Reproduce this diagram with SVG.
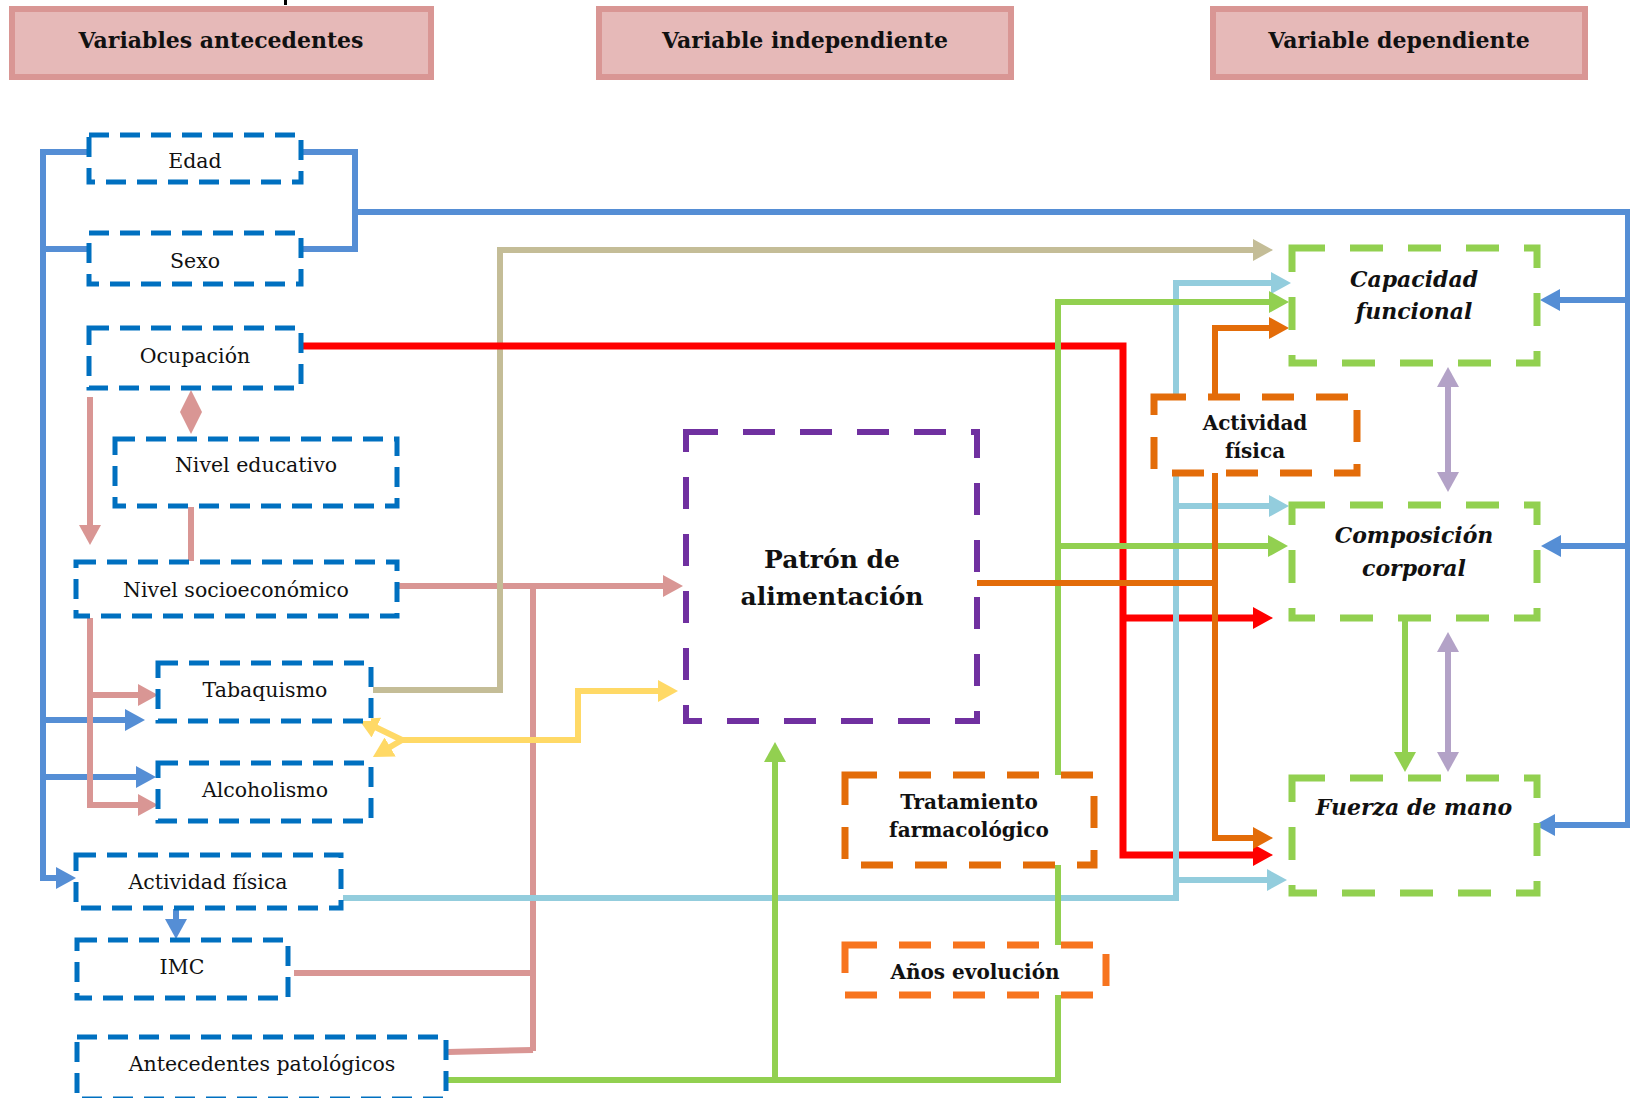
<svg xmlns="http://www.w3.org/2000/svg" width="1630" height="1098" viewBox="0 0 1630 1098">
<style>
  .hdr rect { fill:#e6b9b8; stroke:#d99694; stroke-width:6; }
  .hdr text { font-family:"DejaVu Serif","Liberation Serif",serif; font-weight:bold; font-size:22px; fill:#111; text-anchor:middle; dominant-baseline:central; }
  .bn rect { fill:#fff; stroke:#0070c0; stroke-width:5; stroke-dasharray:20 11; }
  .bn text { font-family:"DejaVu Serif","Liberation Serif",serif; font-size:20.5px; fill:#111; text-anchor:middle; dominant-baseline:central; }
  .pn rect { fill:#fff; stroke:#7030a0; stroke-width:6; stroke-dasharray:32 25; }
  .pn text { font-family:"DejaVu Serif","Liberation Serif",serif; font-weight:bold; font-size:25px; fill:#111; text-anchor:middle; dominant-baseline:central; }
  .gn rect { fill:#fff; stroke:#92d050; stroke-width:7; stroke-dasharray:33 25; }
  .gn text { font-family:"DejaVu Serif","Liberation Serif",serif; font-weight:bold; font-style:italic; font-size:22px; fill:#111; text-anchor:middle; dominant-baseline:central; }
  .on rect { fill:#fff; stroke:#e36c09; stroke-width:7; stroke-dasharray:32 22; }
  .on.bright rect { stroke:#f7741f; }
  .on text { font-family:"DejaVu Serif","Liberation Serif",serif; font-weight:bold; font-size:20px; fill:#111; text-anchor:middle; dominant-baseline:central; }
  #connectors path { fill:none; stroke-width:6; stroke-linejoin:miter; }
  .blue { stroke:#558ed5; }
  .pink { stroke:#d99694; }
  .red { stroke:#ff0000; stroke-width:7 !important; }
  .tan { stroke:#c4bd97; }
  .yel { stroke:#ffd966; }
  .lbl { stroke:#93cddd; }
  .grn { stroke:#92d050; }
  .org { stroke:#e36c09; }
  .lav { stroke:#b3a2c7; }
</style>
<defs>
  <marker id="aBlue" markerUnits="userSpaceOnUse" viewBox="0 0 20 22" markerWidth="20" markerHeight="22" refX="6" refY="11" orient="auto-start-reverse"><path d="M0,0 L20,11 L0,22 z" fill="#558ed5"/></marker>
  <marker id="aPink" markerUnits="userSpaceOnUse" viewBox="0 0 20 22" markerWidth="20" markerHeight="22" refX="6" refY="11" orient="auto-start-reverse"><path d="M0,0 L20,11 L0,22 z" fill="#d99694"/></marker>
  <marker id="aRed" markerUnits="userSpaceOnUse" viewBox="0 0 20 22" markerWidth="20" markerHeight="22" refX="6" refY="11" orient="auto-start-reverse"><path d="M0,0 L20,11 L0,22 z" fill="#ff0000"/></marker>
  <marker id="aTan" markerUnits="userSpaceOnUse" viewBox="0 0 20 22" markerWidth="20" markerHeight="22" refX="6" refY="11" orient="auto-start-reverse"><path d="M0,0 L20,11 L0,22 z" fill="#c4bd97"/></marker>
  <marker id="aYel" markerUnits="userSpaceOnUse" viewBox="0 0 20 22" markerWidth="20" markerHeight="22" refX="6" refY="11" orient="auto-start-reverse"><path d="M0,0 L20,11 L0,22 z" fill="#ffd966"/></marker>
  <marker id="aLbl" markerUnits="userSpaceOnUse" viewBox="0 0 20 22" markerWidth="20" markerHeight="22" refX="6" refY="11" orient="auto-start-reverse"><path d="M0,0 L20,11 L0,22 z" fill="#93cddd"/></marker>
  <marker id="aGrn" markerUnits="userSpaceOnUse" viewBox="0 0 20 22" markerWidth="20" markerHeight="22" refX="6" refY="11" orient="auto-start-reverse"><path d="M0,0 L20,11 L0,22 z" fill="#92d050"/></marker>
  <marker id="aOrg" markerUnits="userSpaceOnUse" viewBox="0 0 20 22" markerWidth="20" markerHeight="22" refX="6" refY="11" orient="auto-start-reverse"><path d="M0,0 L20,11 L0,22 z" fill="#e36c09"/></marker>
  <marker id="aLav" markerUnits="userSpaceOnUse" viewBox="0 0 20 22" markerWidth="20" markerHeight="22" refX="6" refY="11" orient="auto-start-reverse"><path d="M0,0 L20,11 L0,22 z" fill="#b3a2c7"/></marker>
</defs>
<rect x="0" y="0" width="1630" height="1098" fill="#ffffff"/>
<rect x="284" y="0" width="3" height="5" fill="#000"/>

<g id="headers">
  <g id="hdr-antecedentes" class="hdr"><rect x="12" y="9" width="419" height="68"/><text x="221" y="40">Variables antecedentes</text></g>
  <g id="hdr-independiente" class="hdr"><rect x="599" y="9" width="412" height="68"/><text x="805" y="40">Variable independiente</text></g>
  <g id="hdr-dependiente" class="hdr"><rect x="1213" y="9" width="372" height="68"/><text x="1399" y="40">Variable dependiente</text></g>
</g>

<g id="connectors">
  <!-- blue -->
  <path class="blue" d="M89,152 H43 V878 H62" marker-end="url(#aBlue)"/>
  <path class="blue" d="M89,249 H43"/>
  <path class="blue" d="M43,720 H131" marker-end="url(#aBlue)"/>
  <path class="blue" d="M43,777 H142" marker-end="url(#aBlue)"/>
  <path class="blue" d="M301,152 H355 V249 H301"/>
  <path class="blue" d="M355,212 H1628 V825 H1549" marker-end="url(#aBlue)"/>
  <path class="blue" d="M1628,300 H1554" marker-end="url(#aBlue)"/>
  <path class="blue" d="M1628,546 H1555" marker-end="url(#aBlue)"/>
  <path class="blue" d="M176,909 V925" marker-end="url(#aBlue)"/>
  <!-- pink -->
  <path class="pink" d="M90,397 V531" marker-end="url(#aPink)"/>
  <polygon points="191,390 202,412 191,434 180,412" fill="#d99694"/>
  <path class="pink" d="M191,507 V561"/>
  <path class="pink" d="M397,586 H669" marker-end="url(#aPink)"/>
  <path class="pink" d="M533,586 V1051"/>
  <path class="pink" d="M294,973 H533"/>
  <path class="pink" d="M448,1052 L533,1050"/>
  <path class="pink" d="M90,618 V805 H144" marker-end="url(#aPink)"/>
  <path class="pink" d="M90,695 H144" marker-end="url(#aPink)"/>
  <!-- tan -->
  <path class="tan" d="M373,690 H500 V250 H1259" marker-end="url(#aTan)"/>
  <!-- red -->
  <path class="red" d="M301,346 H1123 V855 H1259" marker-end="url(#aRed)"/>
  <path class="red" d="M1123,618 H1259" marker-end="url(#aRed)"/>
  <!-- yellow -->
  <path class="yel" d="M400,740 H578 V691 H664" marker-end="url(#aYel)"/>
  <path class="yel" d="M402,740 L371,725" marker-end="url(#aYel)"/>
  <path class="yel" d="M402,740 L385,750" marker-end="url(#aYel)"/>
  <!-- light blue -->
  <path class="lbl" d="M343,898 H1176 V283 H1277" marker-end="url(#aLbl)"/>
  <path class="lbl" d="M1176,506 H1275" marker-end="url(#aLbl)"/>
  <path class="lbl" d="M1176,880 H1273" marker-end="url(#aLbl)"/>
  <!-- green -->
  <path class="grn" d="M448,1080 H1058 V302 H1275" marker-end="url(#aGrn)"/>
  <path class="grn" d="M1058,546 H1274" marker-end="url(#aGrn)"/>
  <path class="grn" d="M775,1080 V756" marker-end="url(#aGrn)"/>
  <path class="grn" d="M1405,618 V758" marker-end="url(#aGrn)"/>
  <!-- orange -->
  <path class="org" d="M977,583 H1215"/>
  <path class="org" d="M1215,473 V838 H1259" marker-end="url(#aOrg)"/>
  <path class="org" d="M1215,397 V328 H1275" marker-end="url(#aOrg)"/>
  <!-- lavender -->
  <path class="lav" d="M1448,381 V478" marker-start="url(#aLav)" marker-end="url(#aLav)"/>
  <path class="lav" d="M1448,646 V758" marker-start="url(#aLav)" marker-end="url(#aLav)"/>
</g>

<g id="nodes">
  <g id="n-edad" class="bn"><rect x="89" y="135" width="212" height="47"/><text x="195" y="161">Edad</text></g>
  <g id="n-sexo" class="bn"><rect x="89" y="233" width="212" height="51"/><text x="195" y="261">Sexo</text></g>
  <g id="n-ocupacion" class="bn"><rect x="89" y="328" width="212" height="60"/><text x="195" y="356">Ocupación</text></g>
  <g id="n-niveleducativo" class="bn"><rect x="115" y="439" width="282" height="67"/><text x="256" y="465">Nivel educativo</text></g>
  <g id="n-nivelsocio" class="bn"><rect x="76" y="562" width="321" height="54"/><text x="236" y="590">Nivel socioeconómico</text></g>
  <g id="n-tabaquismo" class="bn"><rect x="158" y="663" width="213" height="58"/><text x="265" y="690">Tabaquismo</text></g>
  <g id="n-alcoholismo" class="bn"><rect x="158" y="763" width="213" height="58"/><text x="265" y="790">Alcoholismo</text></g>
  <g id="n-actividad-ant" class="bn"><rect x="76" y="855" width="265" height="53"/><text x="208" y="882">Actividad física</text></g>
  <g id="n-imc" class="bn"><rect x="77" y="940" width="211" height="58"/><text x="182" y="967">IMC</text></g>
  <g id="n-antecedentes" class="bn"><rect x="77" y="1037" width="369" height="62"/><text x="262" y="1064">Antecedentes patológicos</text></g>

  <g id="n-patron" class="pn"><rect x="686" y="432" width="291" height="289"/><text x="832" y="559">Patrón de</text><text x="832" y="596">alimentación</text></g>

  <g id="n-actividad-med" class="on"><rect x="1154" y="397" width="203" height="76"/><text x="1255" y="423">Actividad</text><text x="1255" y="451">física</text></g>
  <g id="n-tratamiento" class="on"><rect x="845" y="775" width="249" height="90"/><text x="969" y="802">Tratamiento</text><text x="969" y="830">farmacológico</text></g>
  <g id="n-anos" class="on bright"><rect x="845" y="945" width="261" height="50"/><text x="975" y="972">Años evolución</text></g>

  <g id="n-capacidad" class="gn"><rect x="1292" y="248" width="245" height="115"/><text x="1414" y="279">Capacidad</text><text x="1414" y="311">funcional</text></g>
  <g id="n-composicion" class="gn"><rect x="1292" y="505" width="245" height="113"/><text x="1414" y="535">Composición</text><text x="1414" y="568">corporal</text></g>
  <g id="n-fuerza" class="gn"><rect x="1292" y="778" width="245" height="115"/><text x="1414" y="807">Fuerza de mano</text></g>
</g>
</svg>
